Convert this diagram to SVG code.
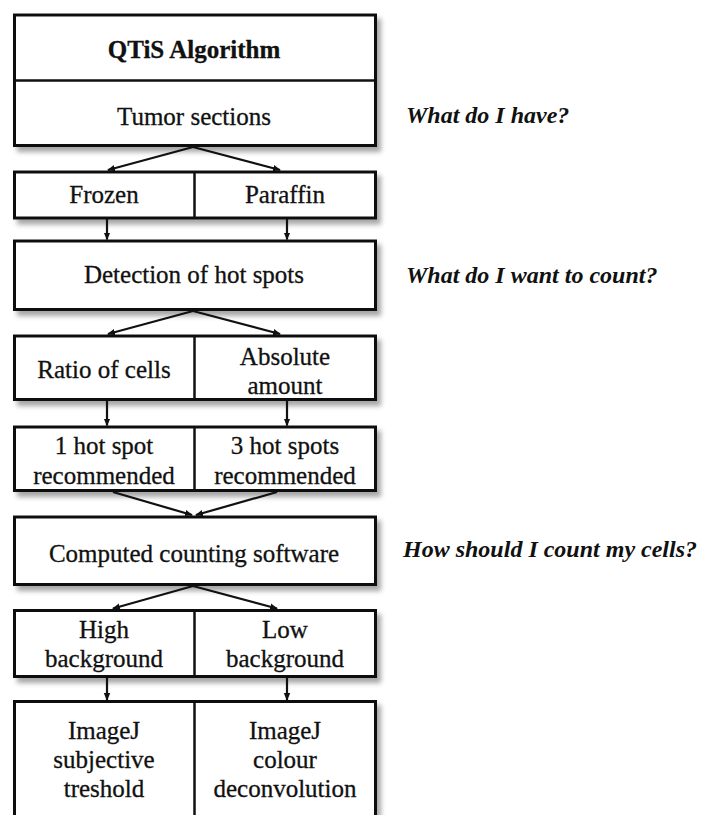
<svg xmlns="http://www.w3.org/2000/svg" width="707" height="815" viewBox="0 0 707 815">
<defs>
<filter id="sh" x="-10%" y="-10%" width="130%" height="140%">
<feDropShadow dx="4" dy="5" stdDeviation="2.5" flood-color="#000" flood-opacity="0.35"/>
</filter>
<marker id="ah" viewBox="0 0 8 8" refX="7" refY="4" markerWidth="8" markerHeight="8" markerUnits="userSpaceOnUse" orient="auto">
<path d="M0,0.8 L8,4 L0,7.2 Z" fill="#111"/>
</marker>
</defs>
<style>
.box{fill:#fff;stroke:#111;stroke-width:3;filter:url(#sh)}
.div{stroke:#111;stroke-width:2.5}
.t{font-family:"Liberation Serif","Times New Roman",serif;font-size:25px;fill:#111;text-anchor:middle;stroke:#111;stroke-width:0.3}
.b{font-weight:bold}
.q{font-family:"Liberation Serif","Times New Roman",serif;font-size:24px;font-weight:bold;font-style:italic;fill:#111}
.c{stroke:#111;stroke-width:2.2;fill:none;marker-end:url(#ah)}
</style>
<rect width="707" height="815" fill="#fff"/>

<g id="n1">
<rect class="box" x="14.5" y="15" width="361" height="130.5"/>
<line class="div" x1="14.5" y1="80.5" x2="375.5" y2="80.5"/>
<text class="t b" x="194" y="58">QTiS Algorithm</text>
<text class="t" x="194" y="125">Tumor sections</text>
</g>

<g id="n2">
<rect class="box" x="14.5" y="172" width="361" height="46"/>
<line class="div" x1="194.5" y1="172" x2="194.5" y2="218"/>
<text class="t" x="104" y="203">Frozen</text>
<text class="t" x="285" y="203">Paraffin</text>
</g>

<g id="n3">
<rect class="box" x="14.5" y="241" width="361" height="68.5"/>
<text class="t" x="194" y="283">Detection of hot spots</text>
</g>

<g id="n4">
<rect class="box" x="14.5" y="336" width="361" height="63.5"/>
<line class="div" x1="194.5" y1="336" x2="194.5" y2="399.5"/>
<text class="t" x="104" y="378">Ratio of cells</text>
<text class="t" x="285" y="365">Absolute</text>
<text class="t" x="285" y="394">amount</text>
</g>

<g id="n5">
<rect class="box" x="14.5" y="427" width="361" height="63.5"/>
<line class="div" x1="194.5" y1="427" x2="194.5" y2="490.5"/>
<text class="t" x="104" y="454">1 hot spot</text>
<text class="t" x="104" y="484">recommended</text>
<text class="t" x="285" y="454">3 hot spots</text>
<text class="t" x="285" y="484">recommended</text>
</g>

<g id="n6">
<rect class="box" x="14.5" y="517" width="361" height="67.5"/>
<text class="t" x="194" y="562">Computed counting software</text>
</g>

<g id="n7">
<rect class="box" x="14.5" y="610.5" width="361" height="66"/>
<line class="div" x1="194.5" y1="610.5" x2="194.5" y2="676.5"/>
<text class="t" x="104" y="638">High</text>
<text class="t" x="104" y="667">background</text>
<text class="t" x="285" y="638">Low</text>
<text class="t" x="285" y="667">background</text>
</g>

<g id="n8">
<rect class="box" x="14.5" y="701.5" width="361" height="130"/>
<line class="div" x1="194.5" y1="701.5" x2="194.5" y2="831.5"/>
<text class="t" x="104" y="739">ImageJ</text>
<text class="t" x="104" y="768">subjective</text>
<text class="t" x="104" y="797">treshold</text>
<text class="t" x="285" y="739">ImageJ</text>
<text class="t" x="285" y="768">colour</text>
<text class="t" x="285" y="797">deconvolution</text>
</g>

<g id="questions">
<text class="q" x="406" y="123">What do I have?</text>
<text class="q" x="406" y="283">What do I want to count?</text>
<text class="q" x="403" y="557">How should I count my cells?</text>
</g>

<g id="connectors">
<line class="c" x1="193" y1="147" x2="108" y2="170"/>
<line class="c" x1="193" y1="147" x2="280" y2="170"/>
<line class="c" x1="107" y1="219" x2="107" y2="239.5"/>
<line class="c" x1="287" y1="219" x2="287" y2="239.5"/>
<line class="c" x1="193" y1="311" x2="108" y2="334"/>
<line class="c" x1="193" y1="311" x2="280" y2="334"/>
<line class="c" x1="107" y1="401" x2="107" y2="425.5"/>
<line class="c" x1="287" y1="401" x2="287" y2="425.5"/>
<line class="c" x1="113" y1="492" x2="192" y2="515"/>
<line class="c" x1="277" y1="492" x2="196" y2="515"/>
<line class="c" x1="193" y1="586" x2="113" y2="608.5"/>
<line class="c" x1="193" y1="586" x2="277" y2="608.5"/>
<line class="c" x1="107" y1="678" x2="107" y2="700"/>
<line class="c" x1="287" y1="678" x2="287" y2="700"/>
</g>
</svg>
